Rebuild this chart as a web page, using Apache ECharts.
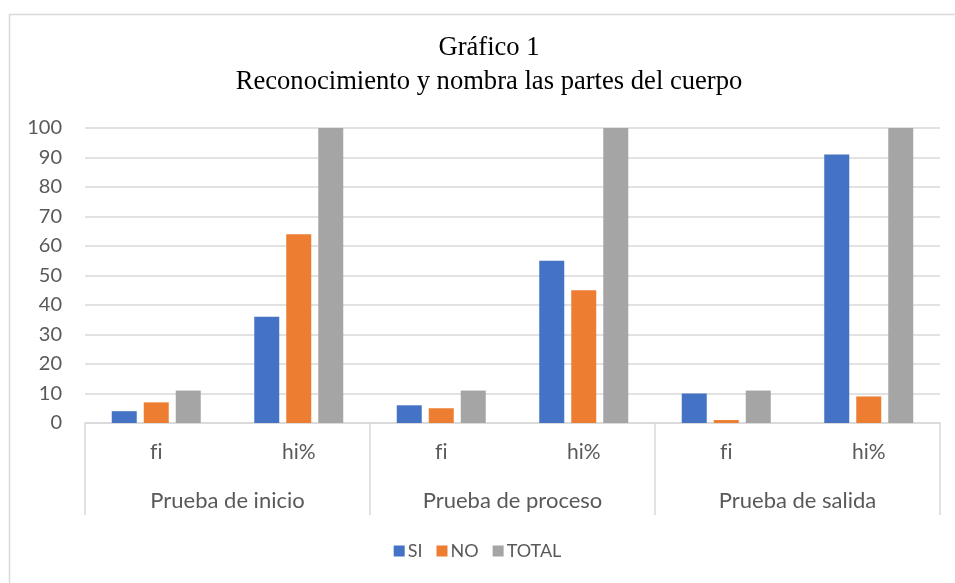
<!DOCTYPE html>
<html>
<head>
<meta charset="utf-8">
<script src="https://cdn.jsdelivr.net/npm/echarts@6/dist/echarts.min.js"></script>
<style>
  html, body { margin: 0; padding: 0; background: #ffffff; }
  #chart { width: 955px; height: 583px; }
</style>
</head>
<body>
<div id="chart"></div>
<script>
// Inner categories (first axis level) and the test groups (second level).
// A zero-width non-joiner keeps "f" and "i" as separate glyphs.
const subCategories = ['f\u200Ci', 'hi%', 'f\u200Ci', 'hi%', 'f\u200Ci', 'hi%'];
const groups = ['Prueba de inicio', 'Prueba de proceso', 'Prueba de salida'];

// Series values per inner category
const siValues = [4, 36, 6, 55, 10, 91];
const noValues = [7, 64, 5, 45, 1, 9];
const totalValues = [11, 100, 11, 100, 11, 100];

const titleLines = ['Gráfico 1', 'Reconocimiento y nombra las partes del cuerpo'];

const textColor = '#595959';
const lineColor = '#d9d9d9';
const labelFont = 'Lato, "Open Sans", sans-serif';
const titleFont = '"Liberation Serif", "Times New Roman", serif';

const chart = echarts.init(document.getElementById('chart'));

chart.setOption({
  animation: false,
  backgroundColor: '#ffffff',
  graphic: [
    {
      // chart frame
      type: 'rect',
      shape: { x: 9.5, y: 14.5, width: 960, height: 600 },
      style: { fill: 'none', stroke: '#d9d9d9', lineWidth: 1.5 },
      silent: true
    },
    {
      // two-line title, centred on the framed area
      type: 'text',
      x: 489,
      y: 31,
      silent: true,
      style: {
        text: titleLines.join('\n'),
        x: 0,
        y: 0,
        align: 'center',
        verticalAlign: 'top',
        font: 'normal 26.6px ' + titleFont,
        lineHeight: 34,
        fill: '#000000'
      }
    }
  ],
  legend: {
    bottom: 18,
    left: 'center',
    itemWidth: 11,
    itemHeight: 11,
    itemGap: 14,
    icon: 'rect',
    textStyle: { fontFamily: labelFont, fontSize: 18, color: textColor, padding: [0, 0, 0, -2] },
    data: ['SI', 'NO', 'TOTAL']
  },
  grid: { left: 85, right: 15, top: 128, bottom: 160, containLabel: false },
  xAxis: [
    {
      type: 'category',
      data: subCategories,
      position: 'bottom',
      axisLine: { show: true, lineStyle: { color: lineColor, width: 1.5 } },
      axisTick: { show: false },
      axisLabel: { fontFamily: labelFont, fontSize: 21, color: textColor, margin: 19 }
    },
    {
      type: 'category',
      data: groups,
      position: 'bottom',
      axisLine: { show: false },
      axisTick: { show: true, length: 92, interval: 0, lineStyle: { color: lineColor, width: 1.5 } },
      axisLabel: { fontFamily: labelFont, fontSize: 22, color: textColor, margin: 67 }
    }
  ],
  yAxis: {
    type: 'value',
    min: 0,
    max: 100,
    interval: 10,
    axisLine: { show: false },
    axisTick: { show: false },
    axisLabel: { fontFamily: labelFont, fontSize: 20, color: textColor, margin: 23 },
    splitLine: { lineStyle: { color: lineColor, width: 1.5 } }
  },
  series: [
    { name: 'SI', type: 'bar', xAxisIndex: 0, data: siValues, barWidth: 25, barGap: '28%', itemStyle: { color: '#4472C4' } },
    { name: 'NO', type: 'bar', xAxisIndex: 0, data: noValues, barWidth: 25, barGap: '28%', itemStyle: { color: '#ED7D31' } },
    { name: 'TOTAL', type: 'bar', xAxisIndex: 0, data: totalValues, barWidth: 25, barGap: '28%', itemStyle: { color: '#A5A5A5' } }
  ]
});
</script>
</body>
</html>
